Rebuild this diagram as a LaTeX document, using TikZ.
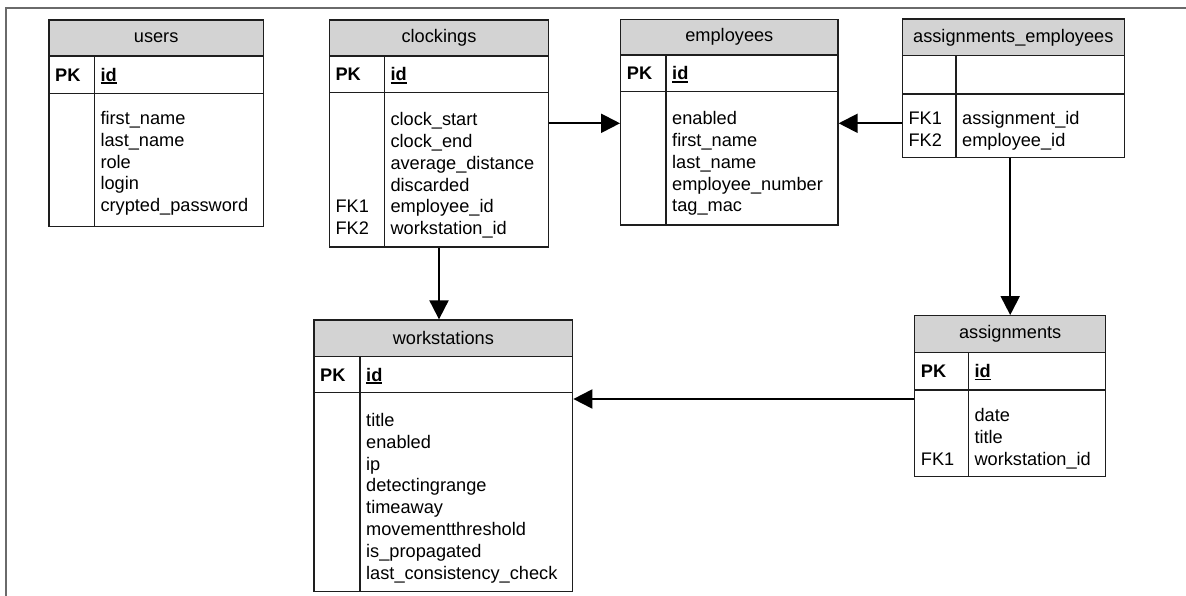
\documentclass[tikz,border=0pt]{standalone}
\usepackage{fontspec}
\setmainfont{Liberation Sans}
\usetikzlibrary{arrows.meta,fit}
\definecolor{hdrgray}{HTML}{D3D3D3}
\definecolor{framegray}{HTML}{6A6A6A}
\definecolor{tblborder}{HTML}{1E1E1E}
\newcommand\keyul[1]{\setbox0\hbox{#1}\rlap{\rule[-2.6pt]{\wd0}{1.6pt}}\box0}
% #1 id, #2 title, #3 left, #4 top, #5 right, #6 divider, #7 header bottom, #8 pk bottom, #9 bottom
\newcommand\ertable[9]{%
  \fill[hdrgray] (#3,#4) rectangle (#5,#7);
  \draw[tblline] (#3,#7) -- (#5,#7) (#3,#8) -- (#5,#8) (#6,#7) -- (#6,#9);
  \node[tblframe, fit={(#3,#4) (#5,#9)}] (#1) {};
  \node[hdrtext] (#1-title) at ({(#3+#5)/2},{(#4+#7)/2}) {#2};
}
% #1 id, #2 x of key column, #3 x of field column, #4 baseline
\newcommand\pkrow[4]{%
  \node[keytext] (#1-pk) at (#2,#4) {PK};
  \node[keytext] (#1-id) at (#3,#4) {\keyul{id}};
}
% #1 id, #2 x, #3 first baseline, #4 list
\newcommand\fieldlist[4]{%
  \foreach \f [count=\i] in {#4} {\node[fldtext] (#1-f\i) at (#2,{#3+(\i-1)*21.8}) {\f};}
}
\begin{document}
\begin{tikzpicture}[x=1pt,y=-1pt,
  tblline/.style={draw=tblborder,line width=1.3pt},
  tblframe/.style={draw=tblborder,line width=1.3pt,inner sep=0pt},
  hdrtext/.style={inner sep=0pt,font=\fontsize{18.2}{21.8}\selectfont},
  keytext/.style={inner sep=0pt,anchor=base west,font=\fontsize{18.2}{21.8}\selectfont\bfseries},
  fldtext/.style={inner sep=0pt,anchor=base west,font=\fontsize{18.2}{21.8}\selectfont},
  rel/.style={draw=black,line width=2pt,-{Triangle[length=19pt,width=19pt]}},
  framel/.style={draw=framegray,line width=1.6pt}]
\useasboundingbox (0,0) rectangle (1186,596);
\draw[framel] (5.7,600) -- (5.7,8.3) -- (1190,8.3);

% users
\ertable{users}{users}{49}{20}{263.3}{94.3}{56}{93.3}{226.7}
\pkrow{users}{55}{100.3}{81.5}
\fieldlist{users}{100.3}{124.5}{first\_name,last\_name,role,login,crypted\_password}

% clockings
\ertable{clk}{clockings}{329.3}{20}{548.7}{384.3}{56}{92.7}{247}
\pkrow{clk}{335.3}{390.3}{81}
\fieldlist{clk}{390.3}{125.8}{clock\_start,clock\_end,average\_distance,discarded,employee\_id,workstation\_id}
\node[fldtext] (clk-fk1) at (335.3,{125.8+4*21.8}) {FK1};
\node[fldtext] (clk-fk2) at (335.3,{125.8+5*21.8}) {FK2};

% employees
\ertable{emp}{employees}{620.7}{19.3}{838}{666}{55}{91.7}{225}
\pkrow{emp}{626.7}{672}{80}
\fieldlist{emp}{672}{124.8}{enabled,first\_name,last\_name,employee\_number,tag\_mac}

% assignments_employees
\ertable{ae}{assignments\_employees}{902.3}{19}{1124.3}{956}{55.7}{94}{157.3}
\fieldlist{ae}{962}{124.8}{assignment\_id,employee\_id}
\node[fldtext] (ae-fk1) at (908.3,124.8) {FK1};
\node[fldtext] (ae-fk2) at (908.3,{124.8+21.8}) {FK2};

% workstations
\ertable{ws}{workstations}{314}{320}{572.7}{360}{356.7}{392.7}{591.7}
\pkrow{ws}{320}{366}{381}
\fieldlist{ws}{366}{426.5}{title,enabled,ip,detectingrange,timeaway,movementthreshold,is\_propagated,last\_consistency\_check}

% assignments
\ertable{asg}{assignments}{914.7}{315.7}{1105.7}{968.3}{352.3}{390}{476.7}
\pkrow{asg}{920.7}{974.3}{377.5}
\fieldlist{asg}{974.3}{421.5}{date,title,workstation\_id}
\node[fldtext] (asg-fk1) at (920.7,{421.5+2*21.8}) {FK1};

% connectors
\coordinate (ce) at (0,123.3);
\coordinate (cw) at (0,399);
\draw[rel] (clk.east |- ce) -- (emp.west |- ce);
\draw[rel] (ae.west |- ce) -- (emp.east |- ce);
\draw[rel] (ae.south -| asg.north) -- (asg.north);
\draw[rel] (clk.south) -- (clk.south |- ws.north);
\draw[rel] (asg.west |- cw) -- (ws.east |- cw);
\end{tikzpicture}
\end{document}
